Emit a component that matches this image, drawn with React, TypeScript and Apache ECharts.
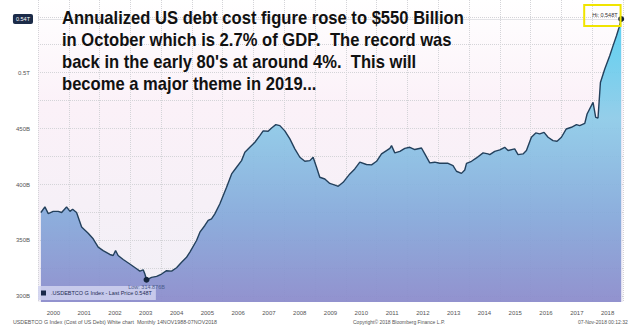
import React, { useEffect, useRef } from "react";
import * as echarts from "echarts";

const dates = [
  "2000-02-05", "2000-03-22", "2000-05-01", "2000-06-29", "2000-08-28", "2000-10-07", "2000-12-05",
  "2001-01-15", "2001-02-16", "2001-04-02", "2001-06-01", "2001-08-18", "2001-10-16", "2001-12-15",
  "2002-02-13", "2002-05-01", "2002-06-10", "2002-07-08", "2002-08-08", "2002-10-07", "2002-12-25",
  "2003-03-14", "2003-04-22", "2003-06-01", "2003-06-21", "2003-07-10", "2003-09-09", "2003-11-08",
  "2004-01-06", "2004-03-04", "2004-05-03", "2004-07-01", "2004-08-30", "2004-10-28", "2004-12-07",
  "2005-02-25", "2005-04-04", "2005-06-02", "2005-07-11", "2005-08-20", "2005-09-29", "2005-11-28",
  "2006-02-16", "2006-04-15", "2006-06-13", "2006-08-11", "2006-09-20", "2006-11-18",
  "2007-01-17", "2007-03-15", "2007-04-24", "2007-06-22", "2007-08-02", "2007-09-22", "2007-11-09",
  "2008-01-07", "2008-03-06", "2008-05-04", "2008-07-03", "2008-09-01", "2008-10-30", "2008-12-08",
  "2009-01-18", "2009-02-26", "2009-04-25", "2009-06-23", "2009-09-11", "2009-10-01", "2009-11-29",
  "2010-02-17", "2010-04-15", "2010-06-14", "2010-09-02", "2010-11-01", "2010-12-30",
  "2011-02-28", "2011-04-26", "2011-06-05", "2011-06-25", "2011-08-03", "2011-10-02", "2011-11-30",
  "2012-01-29", "2012-03-27", "2012-06-15", "2012-07-24", "2012-09-22", "2012-11-20",
  "2013-01-19", "2013-04-26", "2013-06-24", "2013-08-04", "2013-10-02", "2013-11-11", "2013-12-01",
  "2014-01-30", "2014-03-28", "2014-06-15", "2014-08-13", "2014-09-03", "2014-11-01",
  "2015-01-01", "2015-02-28", "2015-04-07", "2015-06-25", "2015-08-04", "2015-10-02", "2015-11-12",
  "2016-01-10", "2016-03-01", "2016-04-17", "2016-06-08", "2016-07-25", "2016-09-23", "2016-11-10",
  "2017-01-01", "2017-02-28", "2017-04-28", "2017-06-27", "2017-08-05", "2017-10-04", "2017-11-01",
  "2018-01-11", "2018-02-12", "2018-03-09", "2018-04-07", "2018-05-28", "2018-07-26", "2018-09-04",
  "2018-10-15", "2018-11-15", "2018-12-10",
];

// Billions of USD
const values = [
  375, 380, 374, 376, 376, 375, 380,
  376, 378, 375, 362, 356.5, 351.5, 344,
  341, 337.5, 336.6, 341, 336.6, 333, 329,
  324.7, 322.6, 323.8, 320, 314.876, 317, 317.9,
  320, 323, 322.6, 325.6, 330.6, 335, 339.6,
  350, 357.4, 363.4, 368, 369.4, 373.8, 382.8,
  397.6, 409.5, 415.5, 421.4, 428.8, 433.3,
  437.8, 443.8, 448, 447.6, 450.6, 453.6, 452.7,
  448, 440.8, 431.9, 424.4, 420.8, 421.4, 424.4,
  415.5, 406.5, 405, 401, 399, 398.5, 402,
  409.5, 414, 420, 417.9, 417.6, 420.8,
  427.4, 430.4, 432.4, 434.8, 428.3, 429.7, 432.4,
  433.3, 431.3, 432.7, 427.4, 419.4, 420,
  419, 419, 417, 411.9, 410, 413, 419,
  420.8, 423.8, 428.3, 427.4, 426.8, 429.7,
  431, 433.3, 430.4, 431.9, 426.8, 427.4, 430.4,
  442.3, 446.2, 445.3, 446.7, 442.3, 439.3, 438.7,
  442.3, 449.7, 451.2, 453.6, 452.7, 454.7, 463.1,
  473.5, 460, 459.5, 491.3, 503.3, 515.2, 524,
  533, 540.4, 548,
];

const years = [
  "2000", "2001", "2002", "2003", "2004", "2005", "2006", "2007", "2008", "2009",
  "2010", "2011", "2012", "2013", "2014", "2015", "2016", "2017", "2018",
];

const yTickValues = [300, 350, 400, 450, 500];
const yGridValues = [300, 325, 350, 375, 400, 425, 450, 475, 500, 525, 550];

const seriesName = ".USDEBTCO G Index - Last Price 0.548T";
const lastPriceTag = "0.54T";
const lowLabel = "Low: 314.876B";
const highLabel = "Hi: 0.548T";

const titleLines = [
  "Annualized US debt cost figure rose to $550 Billion",
  "in October which is 2.7% of GDP.  The record was",
  "back in the early 80's at around 4%.  This will",
  "become a major theme in 2019...",
];

const footerLeft = "USDEBTCO G Index (Cost of US Debt) White chart  Monthly 14NOV1988-07NOV2018";
const footerMid = "Copyright\u00a9 2018 Bloomberg Finance L.P.";
const footerRight = "07-Nov-2018 00:12:32";

function toDecimalYear(d: string): number {
  const [y, m, day] = d.split("-").map(Number);
  return y + (m - 1 + (day - 1) / 30.4) / 12;
}

const FONT = "Liberation Sans, Arial, sans-serif";

export default function App() {
  const ref = useRef<HTMLDivElement>(null);

  useEffect(() => {
    if (!ref.current) return;
    const chart = echarts.init(ref.current, undefined, { renderer: "svg" });
    const data = dates.map((d, i) => [toDecimalYear(d), values[i]]);

    chart.setOption({
      animation: false,
      backgroundColor: "#ffffff",
      textStyle: { fontFamily: FONT },
      grid: {
        left: 38,
        right: 15,
        top: 0,
        bottom: 25,
        show: true,
        borderWidth: 0,
        backgroundColor: new echarts.graphic.LinearGradient(0, 0, 0, 1, [
          { offset: 0, color: "#ffffff" },
          { offset: 0.35, color: "#fbf1f8" },
          { offset: 1, color: "#f1eff6" },
        ]),
      },
      legend: {
        left: 38,
        top: 286,
        itemWidth: 5,
        itemHeight: 5,
        itemGap: 2,
        icon: "rect",
        padding: [4, 4, 4, 3],
        backgroundColor: "rgba(208,210,240,0.85)",
        textStyle: { fontSize: 5.5, color: "#1e2d55", fontFamily: FONT },
        data: [seriesName],
      },
      xAxis: [
        {
          type: "value",
          min: 2000,
          max: 2019,
          interval: 1,
          axisLine: { show: false },
          axisTick: { show: false },
          axisLabel: { show: false },
          splitLine: { show: true, lineStyle: { color: "#d4d4d8", type: "dotted", width: 1 } },
        },
        {
          type: "category",
          position: "bottom",
          data: years,
          boundaryGap: true,
          axisLine: { show: false },
          axisTick: { show: false },
          splitLine: { show: false },
          axisLabel: { fontSize: 6, color: "#555", margin: 8, fontFamily: FONT },
        },
      ],
      yAxis: {
        type: "value",
        min: 295,
        max: 565,
        axisLine: { show: false },
        axisTick: { show: false, customValues: yGridValues },
        axisLabel: {
          customValues: yTickValues,
          fontSize: 6,
          color: "#555",
          margin: 8,
          fontFamily: FONT,
          formatter: (v: number) => (v >= 500 ? (v / 1000).toFixed(1) + "T" : v + "B"),
        },
        splitLine: { show: true, lineStyle: { color: "#d4d4d8", type: "dotted", width: 1 } },
      },
      series: [
        {
          name: seriesName,
          type: "line",
          xAxisIndex: 0,
          data,
          showSymbol: false,
          symbol: "none",
          lineStyle: { color: "#23405c", width: 1.4 },
          itemStyle: { color: "#1b2a4a" },
          areaStyle: {
            opacity: 0.92,
            color: new echarts.graphic.LinearGradient(0, 0, 0, 1, [
              { offset: 0, color: "#4fcdf1" },
              { offset: 0.35, color: "#8ccbe8" },
              { offset: 0.7, color: "#84a8da" },
              { offset: 1, color: "#8a8acb" },
            ]),
          },
          markPoint: {
            silent: true,
            symbol: "circle",
            symbolSize: 6,
            itemStyle: { color: "#14243c" },
            data: [
              {
                type: "min",
                label: {
                  show: true,
                  position: "bottom",
                  distance: 1,
                  formatter: lowLabel,
                  fontSize: 5.5,
                  color: "#4b5c8c",
                  fontFamily: FONT,
                },
              },
              {
                type: "max",
                label: {
                  show: true,
                  position: [-34, -11],
                  formatter: highLabel,
                  fontSize: 5.5,
                  color: "#333",
                  fontFamily: FONT,
                  borderColor: "#f0e400",
                  borderWidth: 2,
                  padding: [7, 3, 8, 8],
                },
              },
            ],
          },
          markLine: {
            silent: true,
            symbol: ["none", "none"],
            data: [{ yAxis: 548 }],
            lineStyle: { color: "#e2e2e6", type: "solid", width: 1 },
            label: {
              show: true,
              position: "start",
              distance: 5,
              formatter: lastPriceTag,
              backgroundColor: "#1b2b48",
              color: "#ffffff",
              fontSize: 5.5,
              padding: [2, 3],
              borderRadius: 2,
              fontFamily: FONT,
            },
          },
        },
      ],
      graphic: [
        {
          type: "text",
          x: 62,
          y: 8,
          scaleX: 0.948,
          z: 100,
          style: {
            text: titleLines.join("\n"),
            font: "bold 17.5px " + FONT,
            lineHeight: 21.7,
            fill: "#111111",
            verticalAlign: "top",
          },
        },
        {
          type: "text",
          left: 13,
          top: 319,
          style: { text: footerLeft, font: "5.3px " + FONT, fill: "#555" },
        },
        {
          type: "text",
          left: 353,
          top: 319,
          style: { text: footerMid, font: "5px " + FONT, fill: "#555" },
        },
        {
          type: "text",
          left: 578,
          top: 319,
          style: { text: footerRight, font: "5px " + FONT, fill: "#555" },
        },
      ],
    });

    return () => chart.dispose();
  }, []);

  return (
    <div
      ref={ref}
      style={{ position: "absolute", left: 0, top: 0, width: 638, height: 327 }}
    />
  );
}
